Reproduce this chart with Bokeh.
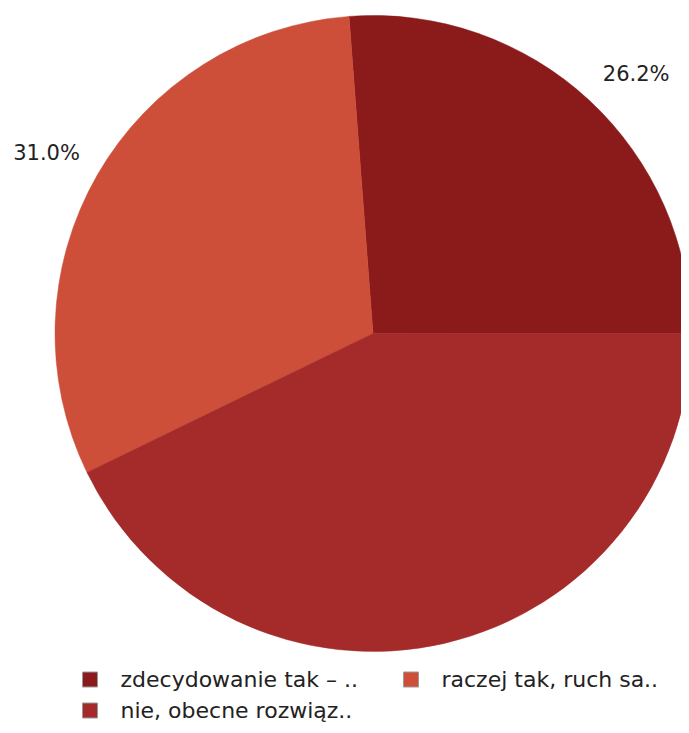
import numpy as np
from bokeh.plotting import figure
from bokeh.models import ColumnDataSource, Range1d
from bokeh.core.properties import value
from bokeh.embed import file_html
from bokeh.resources import INLINE

# ---- data ----
categories = ["zdecydowanie tak – ..", "raczej tak, ruch sa..", "nie, obecne rozwiąz.."]
values = [26.2, 31.0, 42.8]
colors = ["#8B1A1A", "#CD4F39", "#A52A2A"]
show_label = [True, True, False]

W, H = 681, 725
p = figure(width=W, height=H, output_backend="svg", toolbar_location=None,
           x_range=Range1d(0, W), y_range=Range1d(0, H),
           min_border=0, outline_line_color=None)
p.axis.visible = False
p.grid.visible = False
p.background_fill_color = "white"
p.border_fill_color = "white"

cx, cy, R = 372.5, 392.0, 318.0
vals = np.array(values)
frac = vals / vals.sum()
ends = np.cumsum(frac) * 2 * np.pi
starts = np.concatenate([[0.0], ends[:-1]])

src = ColumnDataSource(dict(start=starts, end=ends, color=colors))
p.wedge(x=cx, y=cy, radius=R, start_angle="start", end_angle="end",
        fill_color="color", line_color="color", line_width=0.5, source=src)

# percentage labels
mids = (starts + ends) / 2
rl = 338.0
lx, ly, lt, la = [], [], [], []
for m, f, s in zip(mids, frac, show_label):
    if not s:
        continue
    lx.append(cx + rl * np.cos(m))
    ly.append(cy + rl * np.sin(m))
    lt.append(f"{f*100:.1f}%")
    la.append("left" if np.cos(m) > 0 else "right")
lsrc = ColumnDataSource(dict(x=lx, y=ly, t=lt, a=la))
p.text(x="x", y="y", text="t", text_align="a", text_baseline="bottom",
       text_font=value("DejaVu Sans"), text_font_size="21px",
       text_color="#222222", source=lsrc)

# legend
col_x = [89.5, 410.5]
row_y = [46.0, 15.0]
sq_x, sq_y, tx, ty = [], [], [], []
for i, c in enumerate(categories):
    r, k = divmod(i, 2)
    sq_x.append(col_x[k])
    sq_y.append(row_y[r])
    tx.append(col_x[k] + 30.5)
    ty.append(row_y[r])
p.scatter(x=sq_x, y=sq_y, marker="square", size=15, fill_color=colors,
          line_color="#9a9a9a", line_width=1)
p.text(x=tx, y=ty, text=categories, text_align="left", text_baseline="middle",
       text_font=value("DejaVu Sans"), text_font_size="22px", text_color="#222222")

open("out.html", "w").write(file_html(p, INLINE))
